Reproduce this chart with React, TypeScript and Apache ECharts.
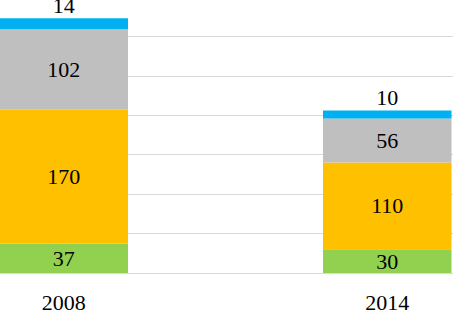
import React, { useEffect, useRef } from "react";
import * as echarts from "echarts";

const categories = ["2008", "2014"];
const greenValues = [37, 30];
const orangeValues = [170, 110];
const grayValues = [102, 56];
const blueValues = [14, 10];

const FONT = "Liberation Serif";

const OFF_L = 97.6;
const OFF_R = 96.6;
const OFF_T = 3;

export default function App() {
  const ref = useRef<HTMLDivElement>(null);
  useEffect(() => {
    if (!ref.current) return;
    const chart = echarts.init(ref.current, null, { renderer: "svg" });
    const inside = {
      show: true,
      position: "inside" as const,
      fontSize: 22,
      fontFamily: FONT,
      color: "#000",
    };
    const mk = (name: string, data: number[], color: string, label: any) => ({
      name,
      type: "bar" as const,
      stack: "total",
      data,
      barWidth: 128.5,
      itemStyle: { color },
      label,
    });
    chart.setOption({
      animation: false,
      backgroundColor: "#fff",
      textStyle: { fontFamily: FONT },
      grid: { left: 0, right: 0, top: 0, bottom: 36, containLabel: false },
      xAxis: {
        type: "category",
        data: categories,
        axisLine: { show: true, lineStyle: { color: "#D9D9D9", width: 1 } },
        axisTick: { show: false },
        axisLabel: { fontSize: 22, fontFamily: FONT, color: "#000", margin: 18 },
      },
      yAxis: {
        type: "value",
        min: 0,
        max: 350,
        interval: 50,
        axisLabel: { show: false },
        axisLine: { show: false },
        axisTick: { show: false },
        splitLine: { lineStyle: { color: "#D9D9D9", width: 1 } },
      },
      series: [
        mk("green", greenValues, "#92D050", inside),
        mk("orange", orangeValues, "#FFC000", inside),
        mk("gray", grayValues, "#BFBFBF", inside),
        mk("blue", blueValues, "#00B0F0", {
          show: true,
          position: "top",
          distance: 2,
          fontSize: 22,
          fontFamily: FONT,
          color: "#000",
        }),
      ],
    });
    return () => chart.dispose();
  }, []);
  return (
    <div
      style={{
        position: "fixed",
        left: 0,
        top: 0,
        width: 453,
        height: 313,
        overflow: "hidden",
        background: "#fff",
      }}
    >
      <div
        ref={ref}
        style={{
          position: "absolute",
          left: -OFF_L,
          top: -OFF_T,
          width: 453 + OFF_L + OFF_R,
          height: 313 + OFF_T,
        }}
      />
    </div>
  );
}
